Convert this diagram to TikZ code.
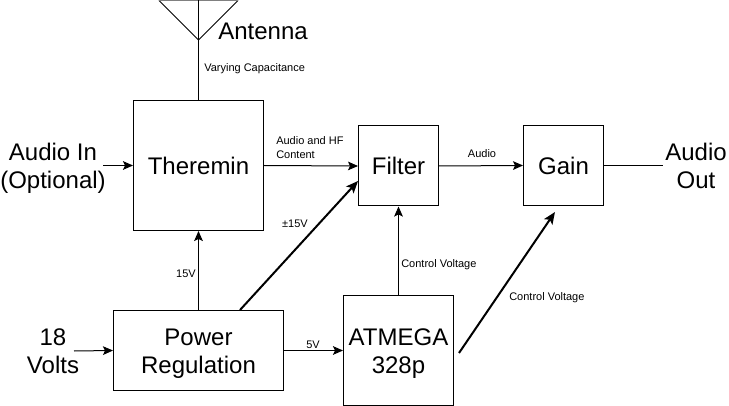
\documentclass[tikz,border=0pt]{standalone}
\usepackage{fontspec}
\setmainfont{Liberation Sans}
\usetikzlibrary{arrows.meta}
\newcommand{\lift}{\rule{0pt}{17.5pt}}
\tikzset{
  block/.style={draw,line width=.75pt,minimum height=60pt,minimum width=60pt,inner sep=0pt,font=\fontsize{18}{21}\selectfont,align=center},
  big/.style={inner sep=0pt,font=\fontsize{18}{21}\selectfont,align=center},
  small/.style={inner sep=0pt,font=\fontsize{8.25}{10.5}\selectfont,align=left},
  wire/.style={line width=.75pt,-{Stealth[length=7.5pt,width=6.5pt,inset=1.5pt]}},
  heavy/.style={line width=1.5pt,-{Stealth[length=9pt,width=7.5pt,inset=2pt]}},
}
\begin{document}
\begin{tikzpicture}[x=.75pt,y=-.75pt]
  \useasboundingbox (0,0) rectangle (729,406);
  \node (ther)[block,minimum width=97.5pt,minimum height=97.5pt] at (198.5,165.5) {Theremin};
  \node (filt)[block] at (398.5,166) {Filter};
  \node (gain)[block] at (563.5,165.5) {Gain};
  \node (pow)[block,minimum width=127.5pt] at (198.5,350.5) {\lift Power\\Regulation};
  \node (atm)[block,minimum width=82.5pt,minimum height=82.5pt] at (398.5,350.5) {\lift ATMEGA\\328p};
  \node (in)[big] at (53,168) {Audio In\\(Optional)};
  \node (volts)[big] at (53,351) {18\\Volts};
  \node (out)[big] at (696,166) {Audio\\Out};
  \node (ant)[big] at (263,31) {Antenna};
  \node (lcap)[small,anchor=west] at (204,69) {Varying Capacitance};
  \node (lhf)[small,anchor=west] at (276,147.5) {Audio and HF\\Content};
  \node (lpm)[small] at (295,224) {±15V};
  \node (l15)[small] at (186,274) {15V};
  \node (l5)[small] at (313,345) {5V};
  \node (laud)[small] at (482,154) {Audio};
  \node (lcv1)[small,anchor=west] at (401,265) {Control Voltage};
  \node (lcv2)[small,anchor=west] at (509,298) {Control Voltage};
  \coordinate (tl) at (159,.5);
  \coordinate (tr) at (238,.5);
  \coordinate (tm) at (198.5,.5);
  \coordinate (tip) at (198.5,40);
  \coordinate (inend) at (103,165.5);
  \coordinate (vend) at (74,351);
  \coordinate (outend) at (663,165.5);
  \coordinate (pmfrom) at (240,310);
  \coordinate (pmto) at (358,181);
  \coordinate (cvfrom) at (459,353);
  \coordinate (cvto) at (555,212);
  \draw[line width=.75pt] (tl) -- (tip) -- (tr);
  \draw[gray,line width=1.5pt] (tl) -- (tr);
  \draw[line width=.75pt] (tm) -- (ther.north);
  \draw[wire] (inend) -- (ther.west);
  \draw[wire] (ther.east) -- (filt.west);
  \draw[wire] (filt.east) -- (gain.west);
  \draw[line width=.75pt] (gain.east) -- (outend);
  \draw[wire] (pow.north) -- (ther.south);
  \draw[wire] (vend) -- (pow.west);
  \draw[wire] (pow.east) -- (atm.west);
  \draw[wire] (atm.north) -- (filt.south);
  \draw[heavy] (pmfrom) -- (pmto);
  \draw[heavy] (cvfrom) -- (cvto);
\end{tikzpicture}
\end{document}
